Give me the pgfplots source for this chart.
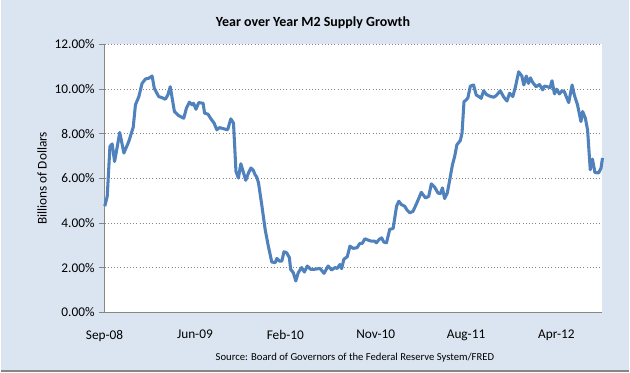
\documentclass[border=0pt]{standalone}
\usepackage{pgfplots}
\pgfplotsset{compat=1.18}
\usepackage{fontspec}
\setmainfont{Carlito}
\definecolor{bgblue}{HTML}{DBE5F1}
\definecolor{lineblue}{HTML}{4F81BD}
\definecolor{axgray}{HTML}{868686}
\begin{document}
\begin{tikzpicture}
\fill[bgblue] (0pt,0pt) rectangle (472.5pt,279.75pt);
\draw[axgray,line width=1.2pt] (0pt,0.6pt) -- (472.5pt,0.6pt);
\node[font=\bfseries\fontsize{10.5}{12}\selectfont] at (234.75pt,262.5pt) {Year over Year M2 Supply Growth};
\node[font=\fontsize{8}{9.6}\selectfont] at (266.25pt,11pt) {Source: Board of Governors of the Federal Reserve System/FRED};
\begin{axis}[
  at={(78pt,45pt)}, anchor=south west,
  scale only axis, width=374.25pt, height=201.4pt,
  xmin=0, xmax=203, ymin=0, ymax=12,
  axis background/.style={fill=white},
  axis line style={axgray, line width=0.9pt},
  axis x line*=bottom, axis y line*=left,
  xtick={0,36.86,73.72,110.58,147.44,184.3},
  xticklabels={Sep-08,Jun-09,Feb-10,Nov-10,Aug-11,Apr-12},
  xtick style={draw=none},
  ytick={0,2,...,12},
  yticklabels={0.00\%,2.00\%,4.00\%,6.00\%,8.00\%,10.00\%,12.00\%},
  tick align=outside, major tick length=4pt,
  ytick style={axgray, line width=0.6pt},
  ymajorgrids, grid style={axgray, dotted, line width=0.6pt},
  ticklabel style={font=\fontsize{10}{12}\selectfont},
  xticklabel style={yshift=-6pt},
  ylabel={Billions of Dollars},
  every axis y label/.style={at={(axis description cs:0,0.5)}, xshift=-47pt, rotate=90, anchor=center, font=\fontsize{10}{12}\selectfont},
  clip=false,
]
\addplot[lineblue, line width=2.3pt, line join=round] coordinates {
(0.1,4.75)(1.1,5.19)(2.2,7.42)(3.1,7.54)(4.1,6.75)(5.2,7.42)(6.2,8.05)(7.9,7.13)
(9.9,7.65)(11.7,8.29)(12.6,9.29)(14.0,9.66)(15.3,10.25)(16.7,10.45)(18.0,10.48)
(19.4,10.58)(20.3,10.03)(22.1,9.66)(23.5,9.61)(24.8,9.54)(25.8,9.73)(26.8,10.1)
(28.5,8.99)(30.2,8.81)(32.3,8.69)(33.4,9.14)(34.6,9.41)(35.7,9.29)(36.3,9.36)
(37.3,9.09)(38.4,9.39)(40.2,9.36)(40.8,8.92)(42.2,8.87)(43.4,8.66)(44.7,8.47)
(45.8,8.17)(46.9,8.27)(49.2,8.20)(50.2,8.17)(51.5,8.66)(52.6,8.47)(53.6,6.31)
(54.6,6.01)(55.6,6.65)(56.7,6.24)(57.6,5.91)(58.7,6.24)(59.7,6.46)(60.7,6.35)
(61.4,6.16)(62.1,6.05)(62.8,5.79)(64.2,4.75)(65.5,3.71)(66.8,2.96)(68.2,2.25)
(69.6,2.22)(70.3,2.41)(71.3,2.29)(72.3,2.29)(73.2,2.71)(74.3,2.66)(75.4,2.44)
(75.9,1.92)(77.0,1.77)(78.0,1.40)(79.0,1.77)(80.4,2.00)(81.5,1.80)(82.7,2.07)
(84.1,1.92)(85.4,1.92)(87.9,1.96)(89.5,1.74)(91.2,2.07)(92.6,1.89)(94.0,2.00)
(94.9,1.96)(96.0,2.14)(96.7,1.95)(97.6,2.37)(99.0,2.49)(100.1,2.96)(101.4,2.86)
(103.0,2.89)(104.1,3.08)(105.1,3.08)(106.2,3.29)(107.5,3.23)(108.9,3.18)
(110.2,3.18)(110.9,3.11)(112.0,3.26)(113.0,3.33)(113.9,3.14)(115.0,3.11)
(116.3,3.71)(117.7,3.75)(119.1,4.75)(120.0,4.97)(121.1,4.82)(122.4,4.75)
(123.4,4.57)(124.5,4.45)(125.8,4.52)(127.2,4.85)(129.2,5.37)(130.9,5.12)
(132.2,5.19)(133.3,5.75)(134.7,5.59)(136.0,5.34)(137.0,5.31)(137.8,5.57)
(138.7,5.09)(139.8,5.34)(140.8,5.94)(141.9,6.61)(142.8,6.98)(143.7,7.50)
(145.1,7.69)(145.8,8.02)(146.6,9.43)(147.5,9.51)(148.2,9.61)(149.2,10.13)
(150.5,10.18)(151.6,9.73)(152.7,9.66)(153.6,9.58)(154.6,9.92)(155.7,9.76)
(156.7,9.70)(157.7,9.66)(158.7,9.63)(159.7,9.70)(161.4,9.92)(162.7,9.66)
(164.1,9.46)(165.2,9.81)(166.5,9.66)(167.6,10.10)(168.9,10.77)(170.2,10.58)
(171.0,10.18)(172.0,10.58)(172.9,10.25)(173.7,10.50)(174.6,10.30)(176.0,10.10)
(177.4,10.20)(178.7,9.96)(179.4,10.13)(180.7,10.10)(181.7,10.06)(182.5,10.37)
(183.5,9.78)(184.4,9.99)(185.5,9.78)(186.6,9.92)(187.5,9.88)(189.3,9.39)
(190.7,10.18)(191.6,9.73)(192.9,9.29)(194.3,8.54)(195.0,8.99)(196.1,8.69)
(197.0,8.17)(198.1,6.38)(199.0,6.86)(200.0,6.26)(201.5,6.24)(202.5,6.46)(203.1,6.91)
};
\end{axis}
\end{tikzpicture}
\end{document}
